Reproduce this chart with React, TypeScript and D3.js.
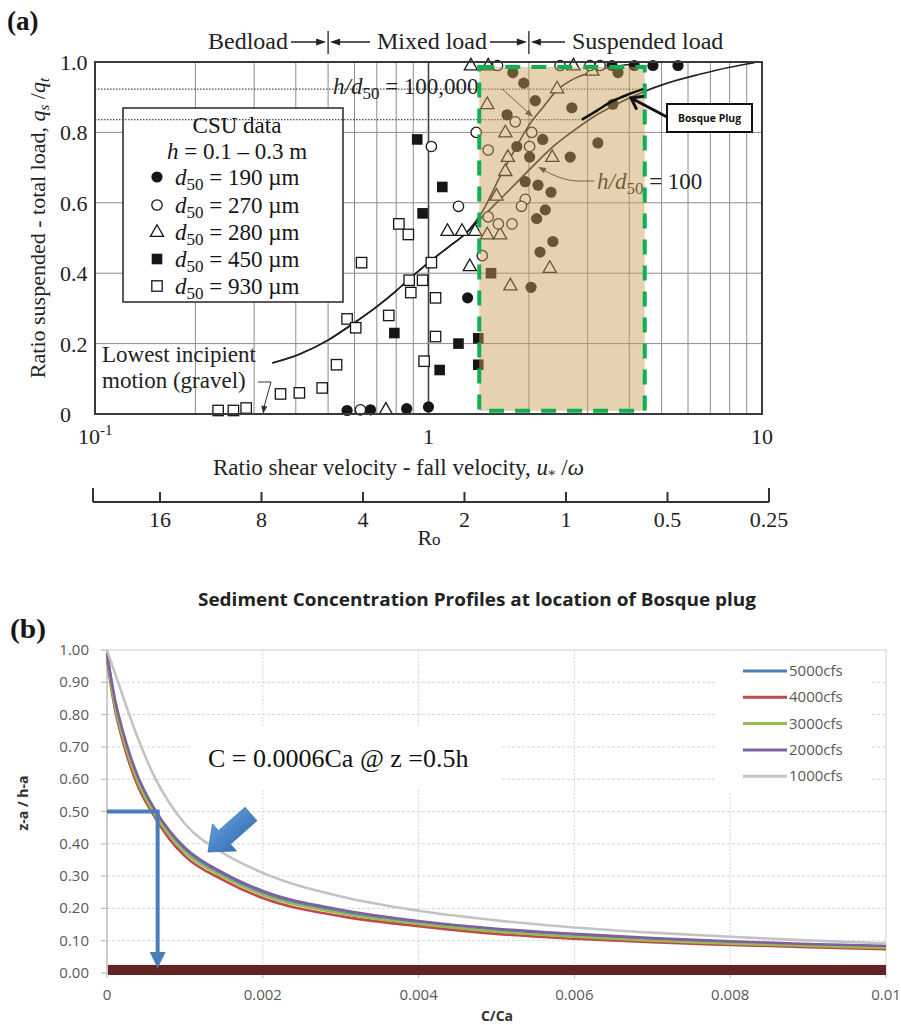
import React from "react";
import * as d3 from "d3";

const serif = "'Liberation Serif', 'Times New Roman', serif";
const sans = "'Open Sans', 'Noto Sans', sans-serif";

// ---------------- Panel (a) data ----------------
const regimeBounds = [0.5, 2];
const xGridA = [0.2, 0.3, 0.4, 0.5, 0.6, 0.7, 0.8, 0.9, 1, 2, 3, 4, 5, 6, 7, 8, 9];
const yGridA = [0.2, 0.4, 0.6, 0.8];
const yTicksA = [0, 0.2, 0.4, 0.6, 0.8, 1.0];
const yTickLabelsA = ["0", "0.2", "0.4", "0.6", "0.8", "1.0"];
const roTicks = [16, 8, 4, 2, 1, 0.5, 0.25];
const roTickLabels = ["16", "8", "4", "2", "1", "0.5", "0.25"];

const d190: [number, number][] = [
  [0.57, 0.01], [0.67, 0.012], [0.86, 0.015], [1.0, 0.02], [1.31, 0.33],
  [3.55, 0.99], [4.14, 0.99], [4.71, 0.99], [5.6, 0.99],
  [1.79, 0.97], [1.93, 0.94], [2.09, 0.89], [1.72, 0.85], [2.69, 0.87], [3.57, 0.88], [3.7, 0.97],
  [1.84, 0.76], [2.2, 0.78], [2.01, 0.73], [2.66, 0.73], [3.22, 0.77],
  [1.95, 0.66], [2.13, 0.65], [2.33, 0.63], [2.24, 0.58], [2.11, 0.555], [2.36, 0.49], [2.16, 0.46], [2.03, 0.36],
];
const d270: [number, number][] = [
  [0.625, 0.012], [1.02, 0.76], [1.23, 0.59], [1.39, 0.8], [1.45, 0.45], [1.82, 0.83], [2.04, 0.8],
  [2.01, 0.76], [1.51, 0.75], [1.51, 0.56], [1.62, 0.54], [1.95, 0.61], [1.9, 0.59], [1.78, 0.54],
  [1.61, 0.99], [2.48, 0.99], [3.05, 0.99], [3.27, 0.99],
];
const d280: [number, number][] = [
  [0.745, 0.012], [1.14, 0.52], [1.26, 0.52], [1.38, 0.52], [1.33, 0.42], [1.5, 0.88], [1.7, 0.8],
  [1.73, 0.73], [1.7, 0.69], [1.6, 0.62], [1.5, 0.51], [1.64, 0.51], [2.43, 0.925], [2.35, 0.73],
  [3.1, 0.975], [2.31, 0.415], [1.76, 0.365], [1.34, 0.99], [1.51, 0.99], [2.72, 0.99],
];
const d450: [number, number][] = [
  [0.925, 0.78], [1.1, 0.645], [0.96, 0.57], [0.79, 0.23], [1.08, 0.125], [1.23, 0.2], [1.41, 0.215], [1.41, 0.14], [1.54, 0.4],
];
const d930: [number, number][] = [
  [0.234, 0.01], [0.26, 0.01], [0.284, 0.017], [0.36, 0.057], [0.41, 0.06], [0.48, 0.074], [0.53, 0.14],
  [0.57, 0.27], [0.605, 0.245], [0.63, 0.43], [0.76, 0.28], [0.815, 0.54], [0.87, 0.51], [0.875, 0.38],
  [0.885, 0.345], [0.96, 0.38], [0.97, 0.15], [1.02, 0.43], [1.05, 0.33], [1.05, 0.22],
];

const curveBase: [number, number][] = [
  [0.34, 0.145], [0.41, 0.17], [0.5, 0.21], [0.58, 0.25], [0.7, 0.305], [0.8, 0.35], [0.88, 0.385],
  [1.0, 0.43], [1.15, 0.475], [1.3, 0.515],
];
const curveHigh: [number, number][] = [
  [1.45, 0.575], [1.64, 0.675], [1.8, 0.745], [2.0, 0.82], [2.2, 0.87], [2.43, 0.92], [2.7, 0.95],
  [3.05, 0.97], [3.5, 0.985], [4.0, 0.993],
];
const curveLow: [number, number][] = [
  [1.45, 0.56], [1.64, 0.61], [1.85, 0.66], [2.06, 0.705], [2.4, 0.765], [2.77, 0.81], [3.2, 0.85],
  [3.75, 0.885], [4.4, 0.915], [5.2, 0.94], [6.5, 0.965], [8, 0.985], [9.5, 0.998],
];
const bosqueSegment: [number, number][] = [[2.88, 0.836], [3.2, 0.862], [3.5, 0.885], [3.9, 0.905], [4.4, 0.923]];
const dottedLevels: [number, number][] = [[0.923, 4.4], [0.836, 2.88]];
const plugBox = { x0: 1.42, x1: 4.45, y0: 0.009, y1: 0.986 };

// ---------------- Panel (b) data ----------------
const cfsX = [0, 0.0001, 0.0002, 0.0003, 0.0004, 0.0006, 0.0008, 0.001, 0.0015, 0.002, 0.003, 0.004, 0.005, 0.006, 0.007, 0.008, 0.009, 0.01];
const s5000 = [0.99, 0.84, 0.742, 0.662, 0.597, 0.503, 0.433, 0.38, 0.302, 0.247, 0.189, 0.155, 0.131, 0.115, 0.103, 0.094, 0.087, 0.081];
const s4000 = [0.97, 0.82, 0.72, 0.64, 0.577, 0.488, 0.415, 0.362, 0.287, 0.232, 0.176, 0.145, 0.121, 0.106, 0.095, 0.087, 0.08, 0.074];
const s3000 = [0.98, 0.83, 0.733, 0.653, 0.589, 0.497, 0.427, 0.374, 0.297, 0.242, 0.185, 0.152, 0.128, 0.112, 0.1, 0.091, 0.084, 0.078];
const s2000 = [0.99, 0.85, 0.752, 0.672, 0.607, 0.512, 0.441, 0.388, 0.309, 0.254, 0.196, 0.161, 0.137, 0.121, 0.108, 0.098, 0.09, 0.084];
const s1000 = [1.0, 0.93, 0.86, 0.79, 0.725, 0.612, 0.527, 0.462, 0.37, 0.31, 0.237, 0.193, 0.163, 0.141, 0.125, 0.112, 0.101, 0.092];
const seriesNames = ["5000cfs", "4000cfs", "3000cfs", "2000cfs", "1000cfs"];
const seriesColors = ["#4a7ebb", "#be4b48", "#98b954", "#7d60a0", "#c3c3c3"];
const seriesValues = [s5000, s4000, s3000, s2000, s1000];
const yTicksB = [0, 0.1, 0.2, 0.3, 0.4, 0.5, 0.6, 0.7, 0.8, 0.9, 1.0];
const xTicksB = [0, 0.002, 0.004, 0.006, 0.008, 0.01];
const xTickLabelsB = ["0", "0.002", "0.004", "0.006", "0.008", "0.01"];
const markX = 0.00065;
const markY = 0.5;
const bedBand = [0, 0.025];

function arrowHead(tx: number, ty: number, fx: number, fy: number, len: number, half: number) {
  const dx = tx - fx, dy = ty - fy;
  const L = Math.hypot(dx, dy);
  const ux = dx / L, uy = dy / L;
  const bx = tx - ux * len, by = ty - uy * len;
  return `${tx},${ty} ${bx - uy * half},${by + ux * half} ${bx + uy * half},${by - ux * half}`;
}

export default function App() {
  const xA = d3.scaleLog().domain([0.1, 10]).range([95, 762]);
  const yA = d3.scaleLinear().domain([0, 1]).range([414, 62]);
  const roS = d3.scaleLog().base(2).domain([16, 0.25]).range([160, 769]);
  const lineA = d3.line<[number, number]>().x((d) => xA(d[0])).y((d) => yA(d[1])).curve(d3.curveMonotoneX);

  const xB = d3.scaleLinear().domain([0, 0.01]).range([107, 886]);
  const yB = d3.scaleLinear().domain([0, 1]).range([973, 650]);
  const lineB = d3.line<number>().x((_, i) => xB(cfsX[i])).y((d) => yB(d)).curve(d3.curveMonotoneX);

  const ink = "#161616";
  const bar1 = xA(regimeBounds[0]);
  const bar2 = xA(regimeBounds[1]);

  // bosque plug arrow
  const bpTail = [667, 117];
  const bpTip = [631, 98];
  const bpDx = bpTip[0] - bpTail[0], bpDy = bpTip[1] - bpTail[1];
  const bpL = Math.hypot(bpDx, bpDy);
  const bux = bpDx / bpL, buy = bpDy / bpL;
  const rot = (a: number) => [bux * Math.cos(a) - buy * Math.sin(a), bux * Math.sin(a) + buy * Math.cos(a)];
  const arm1 = rot(Math.PI * 0.8), arm2 = rot(-Math.PI * 0.8);

  // 3D blue arrow in panel b
  const T = [208, 852];
  const C = [251, 814];
  const adx = T[0] - C[0], ady = T[1] - C[1];
  const aL = Math.hypot(adx, ady);
  const ax = adx / aL, ay = ady / aL;
  const nx = -ay, ny = ax;
  const neck = [C[0] + ax * (aL - 22), C[1] + ay * (aL - 22)];
  const sw = 9, hw = 18;
  const bigArrow = [
    [C[0] + nx * sw, C[1] + ny * sw],
    [neck[0] + nx * sw, neck[1] + ny * sw],
    [neck[0] + nx * hw, neck[1] + ny * hw],
    [T[0], T[1]],
    [neck[0] - nx * hw, neck[1] - ny * hw],
    [neck[0] - nx * sw, neck[1] - ny * sw],
    [C[0] - nx * sw, C[1] - ny * sw],
  ].map((p) => p.join(",")).join(" ");

  const tri = (x: number, y: number) => `M${x},${y - 7.2} L${x + 6.6},${y + 4.4} L${x - 6.6},${y + 4.4} Z`;

  const legendRows = [
    { y: 177, kind: "fc", label: "190" },
    { y: 205, kind: "oc", label: "270" },
    { y: 232, kind: "tri", label: "280" },
    { y: 259, kind: "fs", label: "450" },
    { y: 286, kind: "os", label: "930" },
  ];
  const marker = (kind: string, x: number, y: number, key: string) => {
    if (kind === "fc") return <circle key={key} cx={x} cy={y} r={5.6} fill={ink} />;
    if (kind === "oc") return <circle key={key} cx={x} cy={y} r={5.2} fill="white" stroke={ink} strokeWidth={1.3} />;
    if (kind === "tri") return <path key={key} d={tri(x, y)} fill="white" stroke={ink} strokeWidth={1.3} />;
    if (kind === "fs") return <rect key={key} x={x - 5.3} y={y - 5.3} width={10.6} height={10.6} fill={ink} />;
    return <rect key={key} x={x - 5.2} y={y - 5.2} width={10.4} height={10.4} fill="white" stroke={ink} strokeWidth={1.3} />;
  };

  return (
    <svg width={901} height={1025} style={{ position: "absolute", left: 0, top: 0, background: "white" }} xmlns="http://www.w3.org/2000/svg">
      <rect x={0} y={0} width={901} height={1025} fill="white" />
      {/* ================= Panel (a) ================= */}
      <text x={7} y={30} fontFamily={serif} fontWeight="bold" fontSize={27} fill={ink}>(a)</text>

      {/* regime header */}
      <g fontFamily={serif} fontSize={24} fill="#222">
        <text x={208} y={49}>Bedload</text>
        <text x={377} y={49}>Mixed load</text>
        <text x={572} y={49}>Suspended load</text>
      </g>
      <g stroke="#222" strokeWidth={1.3}>
        <line x1={291} y1={42} x2={bar1 - 4} y2={42} />
        <line x1={bar1 + 4} y1={42} x2={370} y2={42} />
        <line x1={bar1} y1={31} x2={bar1} y2={54} />
        <line x1={490} y1={42} x2={bar2 - 4} y2={42} />
        <line x1={bar2 + 4} y1={42} x2={565} y2={42} />
        <line x1={bar2} y1={31} x2={bar2} y2={54} />
      </g>
      <g fill="#222">
        <polygon points={arrowHead(bar1 - 2, 42, 291, 42, 10, 3.5)} />
        <polygon points={arrowHead(bar1 + 2, 42, 370, 42, 10, 3.5)} />
        <polygon points={arrowHead(bar2 - 2, 42, 490, 42, 10, 3.5)} />
        <polygon points={arrowHead(bar2 + 2, 42, 565, 42, 10, 3.5)} />
      </g>

      {/* grid */}
      <g stroke="#8c8c8c" strokeWidth={1}>
        {xGridA.map((v) => (
          <line key={"gx" + v} x1={xA(v)} x2={xA(v)} y1={yA(1)} y2={yA(0)} stroke={v === 1 ? "#444" : "#8c8c8c"} strokeWidth={v === 1 ? 1.6 : 1} />
        ))}
        {yGridA.map((v) => (
          <line key={"gy" + v} x1={xA(0.1)} x2={xA(10)} y1={yA(v)} y2={yA(v)} />
        ))}
      </g>

      {/* legend box */}
      <rect x={123} y={108} width={220} height={194} fill="white" stroke="#333" strokeWidth={1.6} />

      {/* dotted reference levels */}
      {dottedLevels.map(([lv, xe]) => (
        <line key={"dl" + lv} x1={xA(0.1)} x2={xA(xe)} y1={yA(lv)} y2={yA(lv)} stroke="#222" strokeWidth={1} strokeDasharray="1.5,1.5" />
      ))}

      {/* legend content */}
      <g fontFamily={serif} fontSize={23} fill={ink}>
        <text x={237} y={133} textAnchor="middle">CSU data</text>
        <text x={237} y={159} textAnchor="middle">
          <tspan fontStyle="italic">h</tspan>
          <tspan>{" = 0.1 – 0.3 m"}</tspan>
        </text>
        {legendRows.map((r) => (
          <g key={"lg" + r.label}>
            {marker(r.kind, 157, r.y, "lm" + r.label)}
            <text x={175} y={r.y + 8}>
              <tspan fontStyle="italic">d</tspan>
              <tspan fontSize={17} dy={5}>50</tspan>
              <tspan dy={-5}>{" = " + r.label + " µm"}</tspan>
            </text>
          </g>
        ))}
      </g>

      {/* curves */}
      <g fill="none" stroke="#222" strokeWidth={1.6}>
        <path d={lineA([...curveBase, ...curveHigh]) || ""} />
        <path d={lineA([...curveBase, ...curveLow]) || ""} />
      </g>

      {/* annotations */}
      <g fontFamily={serif} fontSize={23} fill="#222">
        <text x={333} y={94}>
          <tspan fontStyle="italic">h/d</tspan>
          <tspan fontSize={17} dy={5}>50</tspan>
          <tspan dy={-5}>{" = 100,000"}</tspan>
        </text>
        <text x={597} y={189}>
          <tspan fontStyle="italic">h/d</tspan>
          <tspan fontSize={17} dy={5}>50</tspan>
          <tspan dy={-5}>{" = 100"}</tspan>
        </text>
        <text x={102} y={362}>Lowest incipient</text>
        <text x={102} y={388}>motion (gravel)</text>
      </g>
      <g stroke="#333" strokeWidth={1} fill="none">
        <path d="M502,89 L530,114" />
        <path d="M594,181 L576,181 Q560,180 542,169" />
        <path d="M258,382 L271,382 L264,407" />
      </g>
      <g fill="#333">
        <polygon points={arrowHead(533, 117, 502, 89, 8, 3)} />
        <polygon points={arrowHead(538, 167, 556, 176, 8, 3)} />
        <polygon points={arrowHead(263, 414, 265, 402, 8, 3)} />
      </g>

      {/* markers */}
      <g>
        {d930.map((d, i) => marker("os", xA(d[0]), yA(d[1]), "s930" + i))}
        {d450.map((d, i) => marker("fs", xA(d[0]), yA(d[1]), "s450" + i))}
        {d280.map((d, i) => marker("tri", xA(d[0]), yA(d[1]), "s280" + i))}
        {d270.map((d, i) => marker("oc", xA(d[0]), yA(d[1]), "s270" + i))}
        {d190.map((d, i) => marker("fc", xA(d[0]), yA(d[1]), "s190" + i))}
      </g>

      {/* Bosque plug overlay */}
      <rect
        x={xA(plugBox.x0)}
        y={yA(plugBox.y1)}
        width={xA(plugBox.x1) - xA(plugBox.x0)}
        height={yA(plugBox.y0) - yA(plugBox.y1)}
        fill="rgb(202,160,89)"
        fillOpacity={0.47}
      />
      <rect
        x={xA(plugBox.x0)}
        y={yA(plugBox.y1)}
        width={xA(plugBox.x1) - xA(plugBox.x0)}
        height={yA(plugBox.y0) - yA(plugBox.y1)}
        fill="none"
        stroke="#0fb04e"
        strokeWidth={4}
        strokeDasharray="15,11"
      />
      <path d={lineA(bosqueSegment) || ""} fill="none" stroke="#111" strokeWidth={2.6} />

      {/* frame */}
      <rect x={xA(0.1)} y={yA(1)} width={xA(10) - xA(0.1)} height={yA(0) - yA(1)} fill="none" stroke="#3a3a3a" strokeWidth={2} />

      {/* Bosque plug callout */}
      <rect x={667} y={104} width={85} height={28} fill="white" stroke="#111" strokeWidth={2} />
      <text x={709.5} y={122} textAnchor="middle" fontFamily={sans} fontWeight="bold" fontSize={10} textLength={63} lengthAdjust="spacingAndGlyphs" fill="#111">Bosque Plug</text>
      <line x1={bpTail[0]} y1={bpTail[1]} x2={bpTip[0]} y2={bpTip[1]} stroke="#111" strokeWidth={3} />
      <polyline
        points={`${bpTip[0] + arm1[0] * 13},${bpTip[1] + arm1[1] * 13} ${bpTip[0]},${bpTip[1]} ${bpTip[0] + arm2[0] * 13},${bpTip[1] + arm2[1] * 13}`}
        fill="none" stroke="#111" strokeWidth={3} strokeLinejoin="miter"
      />

      {/* axes labels */}
      <g fontFamily={serif} fontSize={22} fill="#222">
        {yTicksA.map((v, i) => (
          <text key={"yt" + v} x={60} y={yA(v) + 8}>{yTickLabelsA[i]}</text>
        ))}
        <text x={78} y={444}>
          <tspan>10</tspan>
          <tspan fontSize={15} dy={-9}>-1</tspan>
        </text>
        <text x={xA(1)} y={444} textAnchor="middle">1</text>
        <text x={xA(10)} y={444} textAnchor="middle">10</text>
      </g>
      <text transform="translate(45,228) rotate(-90)" textAnchor="middle" fontFamily={serif} fontSize={22} fill="#222">
        <tspan>{"Ratio suspended - total load, "}</tspan>
        <tspan fontStyle="italic">q</tspan>
        <tspan fontStyle="italic" fontSize={15} dy={4}>s</tspan>
        <tspan dy={-4}>{" /"}</tspan>
        <tspan fontStyle="italic">q</tspan>
        <tspan fontStyle="italic" fontSize={15} dy={4}>t</tspan>
      </text>
      <text x={213} y={475} fontFamily={serif} fontSize={23} fill="#222">
        <tspan>{"Ratio shear velocity - fall velocity, "}</tspan>
        <tspan fontStyle="italic">u</tspan>
        <tspan fontSize={15} dy={5}>*</tspan>
        <tspan dy={-5}>{" /"}</tspan>
        <tspan fontStyle="italic">ω</tspan>
      </text>

      {/* Ro axis */}
      <g stroke="#333" strokeWidth={2}>
        <line x1={93} x2={roS(0.25)} y1={502} y2={502} />
        <line x1={93} x2={93} y1={488} y2={502} />
        {roTicks.map((v) => (
          <line key={"rt" + v} x1={roS(v)} x2={roS(v)} y1={v === 0.25 ? 488 : 492} y2={502} />
        ))}
      </g>
      <g fontFamily={serif} fontSize={22} fill="#222" textAnchor="middle">
        {roTicks.map((v, i) => (
          <text key={"rl" + v} x={roS(v)} y={527}>{roTickLabels[i]}</text>
        ))}
        <text x={429} y={545}>
          <tspan>R</tspan>
          <tspan fontSize={17}>o</tspan>
        </text>
      </g>

      {/* ================= Panel (b) ================= */}
      <text x={477} y={606} textAnchor="middle" fontFamily={sans} fontWeight="bold" fontSize={17} textLength={558} lengthAdjust="spacingAndGlyphs" fill="#222">
        Sediment Concentration Profiles at location of Bosque plug
      </text>
      <text x={10} y={638} fontFamily={serif} fontWeight="bold" fontSize={28} textLength={36} lengthAdjust="spacingAndGlyphs" fill={ink}>(b)</text>

      {/* grid */}
      <g stroke="#d6d6d6" strokeWidth={1}>
        {yTicksB.filter((v) => v > 0 && v < 1).map((v) => (
          <line key={"bgy" + v} x1={xB(0)} x2={xB(0.01)} y1={yB(v)} y2={yB(v)} strokeDasharray="3,2" />
        ))}
        {xTicksB.filter((v) => v > 0 && v < 0.01).map((v) => (
          <line key={"bgx" + v} x1={xB(v)} x2={xB(v)} y1={yB(1)} y2={yB(0)} strokeDasharray="2,1.5" />
        ))}
      </g>
      <rect x={xB(0)} y={yB(1)} width={xB(0.01) - xB(0)} height={yB(0) - yB(1)} fill="none" stroke="#d0d0d0" strokeWidth={1} />
      {/* axes */}
      <g stroke="#bdbdbd" strokeWidth={1.2}>
        <line x1={xB(0)} x2={xB(0)} y1={yB(1)} y2={yB(0)} />
        <line x1={xB(0)} x2={xB(0.01)} y1={yB(0)} y2={yB(0)} />
        {yTicksB.map((v) => (
          <line key={"byt" + v} x1={xB(0) - 6} x2={xB(0)} y1={yB(v)} y2={yB(v)} />
        ))}
        {xTicksB.map((v) => (
          <line key={"bxt" + v} x1={xB(v)} x2={xB(v)} y1={yB(0)} y2={yB(0) + 5} />
        ))}
      </g>
      <g fontFamily={sans} fontSize={15} fill="#595959">
        {yTicksB.map((v) => (
          <text key={"byl" + v} x={89} y={yB(v) + 5} textAnchor="end">{v.toFixed(2)}</text>
        ))}
        {xTicksB.map((v, i) => (
          <text key={"bxl" + v} x={xB(v)} y={1000} textAnchor="middle">{xTickLabelsB[i]}</text>
        ))}
      </g>
      <text x={497} y={1021} textAnchor="middle" fontFamily={sans} fontWeight="bold" fontSize={14} fill="#333">C/Ca</text>
      <text transform="translate(28,803) rotate(-90)" textAnchor="middle" fontFamily={sans} fontWeight="bold" fontSize={14} fill="#333">z-a / h-a</text>

      {/* annotation text box */}
      <rect x={190} y={727} width={310} height={62} fill="white" />
      <text x={208} y={767} fontFamily={serif} fontSize={26} fill="#111">C = 0.0006Ca @ z =0.5h</text>

      {/* legend */}
      <rect x={717} y={652} width={153} height={140} fill="white" />
      {seriesNames.map((n, i) => (
        <g key={"leg" + n}>
          <line x1={743} x2={787} y1={671 + i * 26.3} y2={671 + i * 26.3} stroke={seriesColors[i]} strokeWidth={3} />
          <text x={789} y={676 + i * 26.3} fontFamily={sans} fontSize={15} fill="#595959">{n}</text>
        </g>
      ))}

      {/* series */}
      <g fill="none" strokeWidth={2.6}>
        {seriesValues.map((s, i) => (
          <path key={"ser" + i} d={lineB(s) || ""} stroke={seriesColors[i]} />
        ))}
      </g>

      {/* bed band */}
      <rect x={xB(0) + 1} y={yB(bedBand[1])} width={xB(0.01) - xB(0) - 1} height={yB(bedBand[0]) - yB(bedBand[1]) + 2} fill="#632423" />

      {/* marker lines */}
      <g stroke="#4a7ebb" strokeWidth={4} fill="none">
        <line x1={xB(0)} x2={xB(markX) + 2} y1={yB(markY)} y2={yB(markY)} />
        <line x1={xB(markX)} x2={xB(markX)} y1={yB(markY)} y2={yB(0.045)} />
      </g>
      <polygon points={`${xB(markX)},${yB(0.015)} ${xB(markX) - 8},${yB(0.065)} ${xB(markX) + 8},${yB(0.065)}`} fill="#4a7ebb" />

      {/* 3D arrow */}
      <defs>
        <linearGradient id="bluegrad" x1="0" y1="0" x2="1" y2="1">
          <stop offset="0" stopColor="#7fb0e6" />
          <stop offset="0.5" stopColor="#4a86c8" />
          <stop offset="1" stopColor="#2d62a8" />
        </linearGradient>
      </defs>
      <polygon points={bigArrow} fill="url(#bluegrad)" stroke="#3a6fb0" strokeWidth={0.8} />
    </svg>
  );
}
